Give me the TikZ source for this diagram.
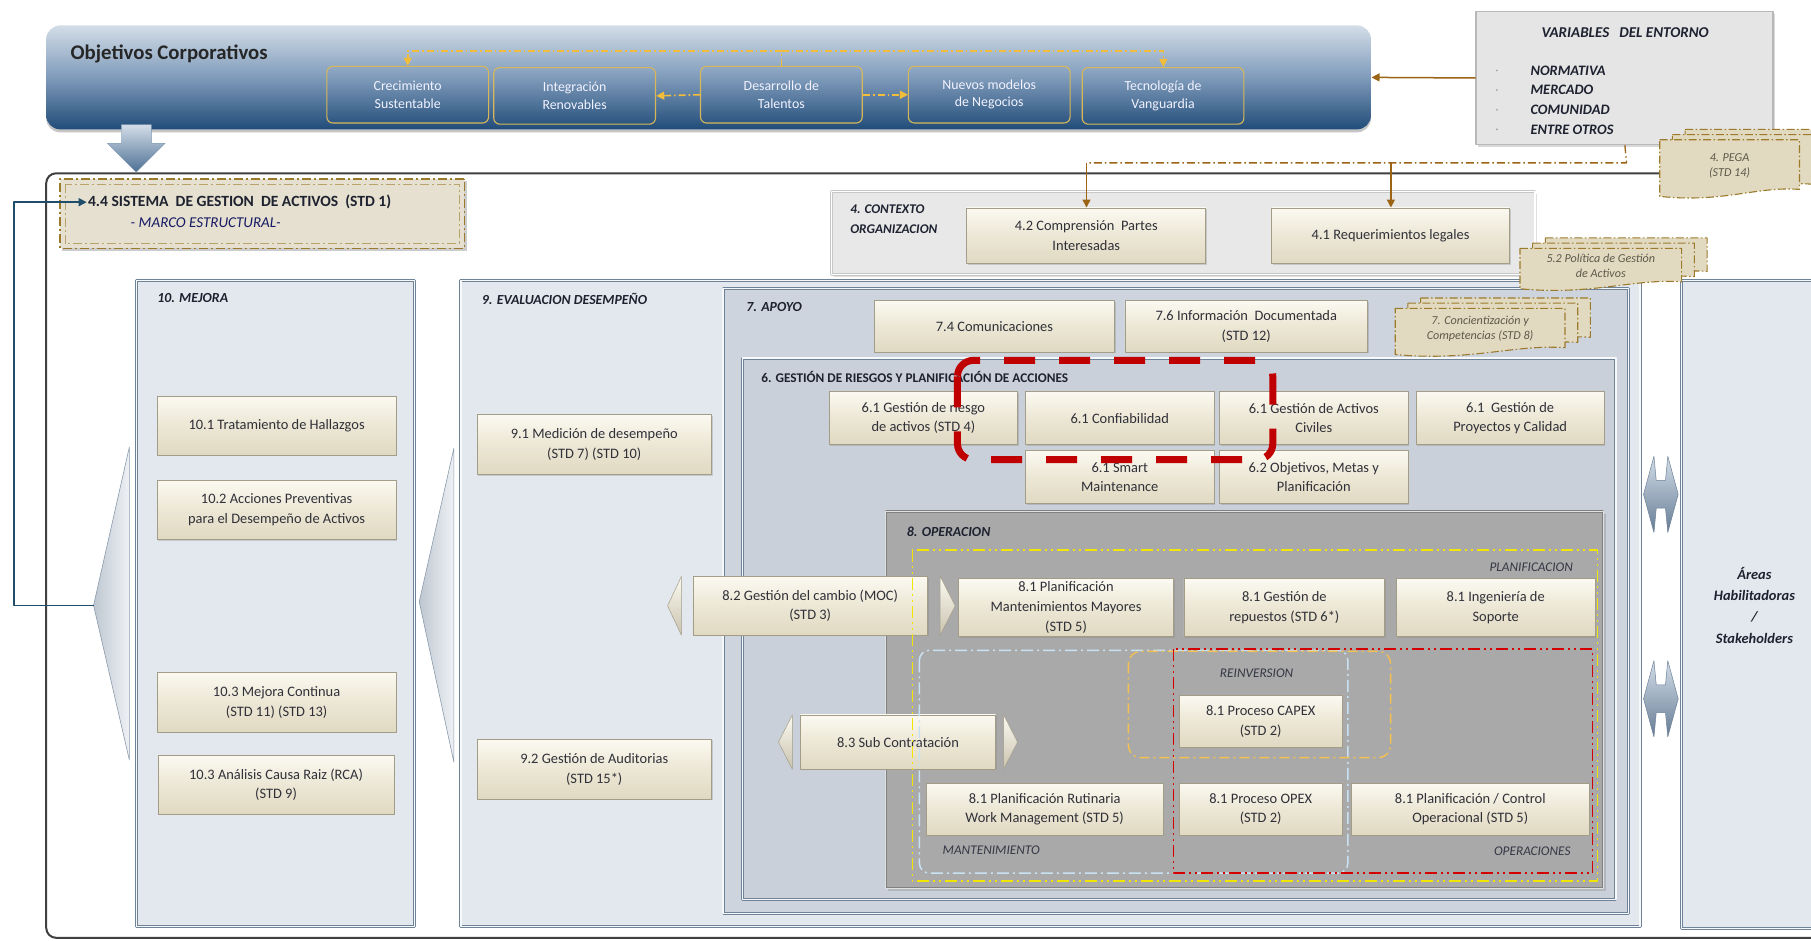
\documentclass[tikz,border=0pt]{standalone}
\usepackage{fontspec}
\setmainfont{Carlito}
\usetikzlibrary{arrows.meta,shadows,calc}

\definecolor{bannertop}{HTML}{D3DDE8}
\definecolor{bannermid}{HTML}{7F9BBA}
\definecolor{bannerbot}{HTML}{214C79}
\definecolor{goldline}{HTML}{D8B75A}
\definecolor{goldarrow}{HTML}{F2BD3A}
\definecolor{bxtop}{HTML}{FBF9F1}
\definecolor{bxmid}{HTML}{ECE7D5}
\definecolor{bxbot}{HTML}{E0D9C2}
\definecolor{bxline}{HTML}{A39D88}
\definecolor{bxtext}{HTML}{303038}
\definecolor{colline}{HTML}{6E8298}
\definecolor{colfill}{HTML}{E3E8EE}
\definecolor{apoyofill}{HTML}{CDD4DD}
\definecolor{riesgofill}{HTML}{C9D0D9}
\definecolor{operfill}{HTML}{A9A9A9}
\definecolor{brownline}{HTML}{9A6414}
\definecolor{docfill}{HTML}{E2DAC0}
\definecolor{docline}{HTML}{9C7A2C}
\definecolor{doctxt}{HTML}{5E584A}
\definecolor{loopblue}{HTML}{1E4E6C}
\definecolor{hired}{HTML}{C00000}
\definecolor{planyellow}{HTML}{F2E600}
\definecolor{mantblue}{HTML}{C8E2F4}
\definecolor{reinvgold}{HTML}{F3C052}
\definecolor{operred}{HTML}{D40000}
\definecolor{titletxt}{HTML}{1E2230}

\newcommand{\bxfont}{\fontsize{12.5}{17}\selectfont}
\newcommand{\ttlfont}{\fontsize{12}{17}\selectfont\bfseries\itshape}
\newcommand{\docfont}{\fontsize{10.5}{13}\selectfont\itshape}

\tikzset{
  bx/.style={draw=bxline, line width=0.7pt, top color=bxtop, bottom color=bxbot, middle color=bxmid,
    text=bxtext, font=\bxfont, align=center, inner sep=1pt,
    drop shadow={shadow xshift=1.2pt, shadow yshift=-1.2pt, opacity=0.3}},
  obox/.style={draw=goldline, line width=1.1pt, rounded corners=6pt, minimum width=140, minimum height=49,
    text=white!95!blue, font=\fontsize{12}{15}\selectfont, align=center, inner sep=0pt},
  ylink/.style={draw=goldarrow, line width=1.6pt, dash pattern=on 7pt off 3pt on 1.5pt off 3pt},
  brdash/.style={draw=brownline, line width=1.3pt, dash pattern=on 8pt off 3pt on 1.5pt off 3pt},
  colbox/.style={draw=colline, line width=0.8pt, double=white!70!colfill, double distance=1.4pt, inner sep=0pt},
  coltitle/.style={anchor=west, font=\ttlfont, text=titletxt, inner sep=1pt, align=left},
  seclabel/.style={font=\fontsize{11.5}{13}\selectfont\itshape, text=titletxt!90, inner sep=1pt},
  docshape/.style={draw=docline, fill=docfill, line width=1.1pt, dash pattern=on 8pt off 2.5pt on 1.5pt off 2.5pt},
  doctext/.style={font=\docfont, text=doctxt, align=center, inner sep=0pt},
  flank/.style={top color=bxtop, bottom color=bxbot!90!black, draw=bxline, line width=0.5pt},
}

\newcommand{\stackdoc}[6]{%
  \foreach \k in {2,1,0}{%
    \begin{scope}[shift={(\k*11,-\k*4.5)}]
      \draw[docshape] (#2,#3) -- (#4,#3) -- (#4,#5-6)
        .. controls ({#2+(#4-#2)*0.7},#5-9) and ({#2+(#4-#2)*0.45},#5+6) .. (#2,#5) -- cycle;
    \end{scope}}
  \node[doctext] (#1) at ({(#2+#4)/2},{(#3+#5)/2-2}) {#6};}

\begin{document}
\begin{tikzpicture}[x=1pt, y=-1pt, scale=1.155, transform shape,
    >={Triangle[length=8pt,width=8pt]}, line join=round]
  \useasboundingbox (0,0) rectangle (1568,814);
  \clip (0,0) rectangle (1568,814);
  \fill[white] (0,0) rectangle (1568,814);

  % outer frame
  \draw[draw=black!75, line width=2pt, rounded corners=10pt] (40,150) rectangle (1620,812);

  % corporate objectives banner
  \node[rounded corners=14pt, top color=bannertop, bottom color=bannerbot, middle color=bannermid,
    minimum width=1147, minimum height=90, inner sep=0pt,
    drop shadow={opacity=0.45, shadow xshift=0pt, shadow yshift=-3pt}] (obj) at (613.5,67) {};
  \node[anchor=west, font=\fontsize{18}{20}\selectfont\bfseries, text=black!85, inner sep=1pt] (objt) at (60,47) {Objetivos Corporativos};
  \node[obox] (crec) at (353,82) {Crecimiento\\Sustentable};
  \node[obox] (inte) at (497.5,83) {Integración\\Renovables};
  \node[obox] (desa) at (676.5,82) {Desarrollo de\\Talentos};
  \node[obox] (nuev) at (856.5,82) {Nuevos modelos\\de Negocios};
  \node[obox] (tecn) at (1007,83) {Tecnología de\\Vanguardia};
  \coordinate (ytop) at (676.5,44);
  \draw[ylink] (desa.north) -- (ytop);
  \draw[ylink,->] (ytop) -| (crec.north);
  \draw[ylink,->] (ytop) -| (tecn.north);
  \draw[ylink,->] (desa.west) -- (inte.east);
  \draw[ylink,->] (desa.east) -- (nuev.west);

  % block arrow down
  \shadedraw[top color=bannertop, bottom color=bannerbot!80, draw=bannerbot!60, line width=0.4pt]
    (105,108) -- (131,108) -- (131,124) -- (143,124) -- (118,149) -- (93,124) -- (105,124) -- cycle;

  % environment variables
  \node[fill=black!10, draw=black!28, line width=1.5pt, minimum width=257, minimum height=115,
    drop shadow={opacity=0.3}] (var) at (1406.5,67.5) {};
  \node[font=\fontsize{13}{15}\selectfont\bfseries\itshape, text=titletxt, inner sep=1pt] (vart) at (1407,28) {VARIABLES\ \ \ DEL ENTORNO};
  \foreach \yy/\tx in {61/NORMATIVA, 78/MERCADO, 95/COMUNIDAD, 112/ENTRE OTROS}{
    \fill[black!35] (1296,\yy) circle (0.9);
    \node[anchor=west, font=\fontsize{12.5}{15}\selectfont\bfseries\itshape, text=titletxt, inner sep=1pt] (v\yy) at (1324,\yy) {\tx};
  }
  \draw[brownline, line width=1.5pt, ->] (var.west) -- (obj.east);

  % context of the organisation
  \node[fill=black!9, draw=black!22, line width=0.8pt, double=white, double distance=1.2pt,
    minimum width=609, minimum height=72, drop shadow={opacity=0.25}] (ctx) at (1024.5,202) {};
  \node[coltitle, font=\fontsize{11.5}{17}\selectfont\bfseries\itshape] (ctxt) at (735,190) {4. CONTEXTO\\ORGANIZACION};
  \node[bx, minimum width=207, minimum height=48] (b42) at (940.5,204) {4.2 Comprensión\ \ Partes\\Interesadas};
  \node[bx, minimum width=206, minimum height=48] (b41) at (1204,204) {4.1 Requerimientos legales};
  \coordinate (vcor) at (1408,141);
  \coordinate (vleft) at (940.5,141);
  \coordinate (vright) at (1204,141);
  \draw[brdash] (var.south) -- (vcor) -- (vleft);
  \draw[brownline, line width=1.3pt, ->] (vleft) -- (b42.north);
  \draw[brownline, line width=1.3pt, ->] (vright) -- (b41.north);

  % asset management system
  \node[fill=black!3!bxmid, draw=docline, line width=1.5pt, dash pattern=on 9pt off 3pt on 2pt off 3pt,
    minimum width=350, minimum height=60, drop shadow={opacity=0.4}] (sga) at (227,185) {};
  \draw[docline!70, line width=0.9pt, dash pattern=on 9pt off 3pt on 2pt off 3pt]
    ($(sga.north west)+(5,5)$) rectangle ($(sga.south east)+(-5,-5)$);
  \node[anchor=west, font=\fontsize{13.5}{15}\selectfont\bfseries, text=titletxt, inner sep=1pt] (sgat) at (75,175) {4.4 SISTEMA\ \ DE GESTION\ \ DE ACTIVOS\ \ (STD 1)};
  \node[anchor=west, font=\fontsize{13}{15}\selectfont\itshape, text=titletxt!75!blue, inner sep=1pt] (sgam) at (112,193) {- MARCO ESTRUCTURAL-};

  % columns
  \node[colbox, fill=colfill, minimum width=241, minimum height=559] (mej) at (238.5,522.5) {};
  \node[coltitle] (mejt) at (135,258) {10. MEJORA};
  \node[colbox, fill=colfill, minimum width=1021, minimum height=559] (eva) at (909.5,522.5) {};
  \node[coltitle] (evat) at (416,259) {9. EVALUACION DESEMPEÑO};
  \node[colbox, fill=apoyofill, minimum width=784, minimum height=541] (apo) at (1018,520.5) {};
  \node[coltitle] (apot) at (645,266) {7. APOYO};
  \node[colbox, fill=riesgofill, minimum width=756, minimum height=469] (rie) at (1021,544.5) {};
  \node[anchor=west, font=\fontsize{11.5}{13}\selectfont\bfseries, text=titletxt, inner sep=1pt] (riet) at (658,326) {6. GESTIÓN DE RIESGOS Y PLANIFICACIÓN DE ACCIONES};
  \node[fill=operfill, draw=black!50, line width=0.7pt, double=black!12, double distance=1.2pt,
    minimum width=621, minimum height=326, drop shadow={opacity=0.3}] (ope) at (1077.5,606) {};
  \node[coltitle] (opet) at (784,460) {8. OPERACION};
  \node[colbox, fill=colfill, minimum width=150, minimum height=561] (stk) at (1531,523.5) {};
  \node[font=\fontsize{12.5}{18.5}\selectfont\bfseries\itshape, text=titletxt, align=center] (stkt) at (1519,524) {Áreas\\Habilitadoras\\/\\Stakeholders};

  % side wedges
  \coordinate (t1tip) at (81,524);
  \shadedraw[left color=colline!45, right color=colfill!60, draw=colline!80, line width=0.6pt]
    (112,387) -- (t1tip) -- (112,658) -- cycle;
  \shadedraw[left color=colline!45, right color=colfill!60, draw=colline!80, line width=0.6pt]
    (393,388) -- (363,521) -- (393,660) -- cycle;

  % 10 mejora
  \node[bx, minimum width=207, minimum height=51] (m101) at (239.5,368.5) {10.1 Tratamiento de Hallazgos};
  \node[bx, minimum width=207, minimum height=51] (m102) at (239.5,441.5) {10.2 Acciones Preventivas\\para el Desempeño de Activos};
  \node[bx, minimum width=207, minimum height=52] (m103) at (239.5,608) {10.3 Mejora Continua\\(STD 11) (STD 13)};
  \node[bx, minimum width=204, minimum height=51] (m104) at (239,679.5) {10.3 Análisis Causa Raiz (RCA)\\(STD 9)};

  % 9 evaluacion
  \node[bx, minimum width=203, minimum height=52] (e91) at (514.5,385) {9.1 Medición de desempeño\\(STD 7) (STD 10)};
  \node[bx, minimum width=203, minimum height=52] (e92) at (514.5,666) {9.2 Gestión de Auditorias\\(STD 15*)};

  % 7 apoyo
  \node[bx, minimum width=208, minimum height=45] (a74) at (861,282.5) {7.4 Comunicaciones};
  \node[bx, minimum width=210, minimum height=45] (a76) at (1079,282.5) {7.6 Información\ \ Documentada\\(STD 12)};

  % 6 riesgos
  \node[bx, minimum width=163, minimum height=46] (r1) at (799.5,362) {6.1 Gestión de riesgo\\de activos (STD 4)};
  \node[bx, minimum width=163, minimum height=46] (r2) at (969.5,362) {6.1 Confiabilidad};
  \node[bx, minimum width=163, minimum height=46] (r3) at (1137.5,362) {6.1 Gestión de Activos\\Civiles};
  \node[bx, minimum width=163, minimum height=46] (r4) at (1307.5,362) {6.1\ \ Gestión de\\Proyectos y Calidad};
  \node[bx, minimum width=163, minimum height=46] (r5) at (969.5,413) {6.1 Smart\\Maintenance};
  \node[bx, minimum width=163, minimum height=46] (r6) at (1137.5,413) {6.2 Objetivos, Metas y\\Planificación};

  % 8 operacion
  \shadedraw[flank] (590,499) -- (578,524.5) -- (590,550) -- cycle;
  \shadedraw[flank] (814,499) -- (827,524.5) -- (814,550) -- cycle;
  \node[bx, minimum width=203, minimum height=51] (o82) at (701.5,524.5) {8.2 Gestión del cambio (MOC)\\(STD 3)};
  \node[bx, minimum width=186, minimum height=50] (o81a) at (923,526) {8.1 Planificación\\Mantenimientos Mayores\\(STD 5)};
  \node[bx, minimum width=174, minimum height=50] (o81b) at (1112,526) {8.1 Gestión de\\repuestos (STD 6*)};
  \node[bx, minimum width=172, minimum height=50] (o81c) at (1295,526) {8.1 Ingeniería de\\Soporte};
  \shadedraw[flank] (686,619) -- (674,642.5) -- (686,666) -- cycle;
  \shadedraw[flank] (869,619) -- (881,642.5) -- (869,666) -- cycle;
  \node[bx, minimum width=169, minimum height=47] (o83) at (777.5,642.5) {8.3 Sub Contratación};
  \node[bx, minimum width=141, minimum height=45] (o81d) at (1091.5,624.5) {8.1 Proceso CAPEX\\(STD 2)};
  \node[bx, minimum width=205, minimum height=45] (o81e) at (904.5,700.5) {8.1 Planificación Rutinaria\\Work Management (STD 5)};
  \node[bx, minimum width=141, minimum height=45] (o81f) at (1091.5,700.5) {8.1 Proceso OPEX\\(STD 2)};
  \node[bx, minimum width=206, minimum height=45] (o81g) at (1273,700.5) {8.1 Planificación / Control\\Operacional (STD 5)};

  % dashed regions of 8
  \draw[planyellow, line width=1.6pt, dash pattern=on 12pt off 4pt on 2pt off 4pt on 2pt off 4pt] (790,476) rectangle (1383,763);
  \draw[mantblue, line width=1.5pt, rounded corners=10pt, dash pattern=on 12pt off 4pt on 2pt off 4pt] (796,563) rectangle (1167,756);
  \draw[reinvgold, line width=1.4pt, rounded corners=12pt, dash pattern=on 10pt off 4pt on 2pt off 4pt] (977,564) rectangle (1204,656);
  \draw[operred, line width=1.5pt, dash pattern=on 12pt off 4pt on 2pt off 4pt on 2pt off 4pt] (1016,562) rectangle (1379,756);
  \node[seclabel, anchor=east] (planl) at (1363,491) {PLANIFICACION};
  \node[seclabel] (reinl) at (1088,583) {REINVERSION};
  \node[seclabel, anchor=west] (mantl) at (815,736) {MANTENIMIENTO};
  \node[seclabel, anchor=east] (operl) at (1361,737) {OPERACIONES};

  % stacked documents
  \stackdoc{pega}{1437}{121}{1558}{170}{4. PEGA\\(STD 14)}
  \stackdoc{poli}{1316}{215}{1456}{250}{5.2 Política de Gestión\\de Activos}
  \stackdoc{conc}{1208}{267}{1355}{307}{7. Concientización y\\Competencias (STD 8)}

  % highlight
  \draw[hired, line width=7pt, dash pattern=on 31pt off 24pt, rounded corners=16pt] (829,312) rectangle (1102,398);

  % improvement loop
  \coordinate (lcor) at (12,524);
  \draw[loopblue, line width=1.5pt, ->] (t1tip) -- (lcor) |- (sgat.west);

  % two-way arrows to stakeholders
  \foreach \cy in {428,605}{
    \shadedraw[top color=bannertop, bottom color=bannermid!80!black, draw=colline, line width=0.5pt]
      (1423,\cy) -- (1432,\cy-33) -- (1434,\cy-12) -- (1442,\cy-12) -- (1444,\cy-33) -- (1453,\cy)
      -- (1444,\cy+33) -- (1442,\cy+12) -- (1434,\cy+12) -- (1432,\cy+33) -- cycle;
  }
\end{tikzpicture}
\end{document}
